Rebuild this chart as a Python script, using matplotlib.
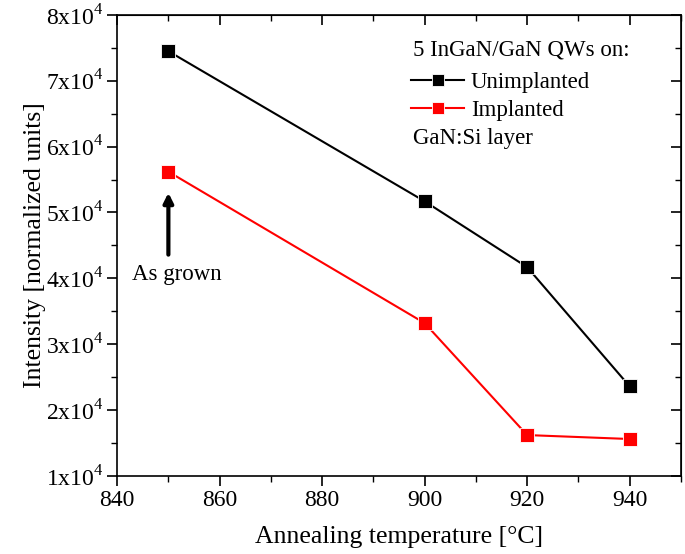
import matplotlib
matplotlib.use("Agg")
import matplotlib.pyplot as plt
from matplotlib.ticker import MultipleLocator, FuncFormatter

# data
temps = [850, 900, 920, 940]
unimplanted = [7.45e4, 5.17e4, 4.17e4, 2.36e4]
implanted = [5.62e4, 3.32e4, 1.62e4, 1.56e4]

plt.rcParams['font.family'] = ['Liberation Serif', 'DejaVu Serif']
plt.rcParams['mathtext.fontset'] = 'custom'
plt.rcParams['mathtext.rm'] = 'Liberation Serif'

fig = plt.figure(figsize=(6.85, 5.54), dpi=100)
ax = fig.add_axes([0.171, 0.141, 0.823, 0.832])

l1, = ax.plot(temps, unimplanted, color='black', lw=1.5, marker='s', ms=9.5,
              mec='white', mew=0.6)
l2, = ax.plot(temps, implanted, color='red', lw=1.5, marker='s', ms=9.5,
              mec='white', mew=0.6)

ax.set_xlim(840, 950)
ax.set_ylim(1e4, 8e4)
ax.xaxis.set_major_locator(MultipleLocator(20))
ax.xaxis.set_minor_locator(MultipleLocator(10))
ax.yaxis.set_major_locator(MultipleLocator(1e4))
ax.yaxis.set_minor_locator(MultipleLocator(5e3))
ax.yaxis.set_major_formatter(FuncFormatter(lambda v, p: f"{int(round(v / 1e4))}x10$^{{4}}$"))

ax.tick_params(which='major', direction='out', length=7, width=1.2, labelsize=17, pad=3)
ax.tick_params(which='minor', direction='out', length=4, width=1.0)
for s in ax.spines.values():
    s.set_linewidth(1.2)

# inward ticks on top and right
top = ax.secondary_xaxis('top')
top.xaxis.set_major_locator(MultipleLocator(20))
top.xaxis.set_minor_locator(MultipleLocator(10))
top.tick_params(which='major', direction='in', length=7, width=1.2, labeltop=False)
top.tick_params(which='minor', direction='in', length=4, width=1.0)
right = ax.secondary_yaxis('right')
right.yaxis.set_major_locator(MultipleLocator(1e4))
right.yaxis.set_minor_locator(MultipleLocator(5e3))
right.tick_params(which='major', direction='in', length=7, width=1.2, labelright=False)
right.tick_params(which='minor', direction='in', length=4, width=1.0)

ax.set_xlabel("Annealing temperature [°C]", fontsize=18.5, labelpad=11)
ax.set_ylabel("Intensity [normalized units]", fontsize=18.5, labelpad=0)

# "As grown" arrow
ax.annotate("", xy=(850, 5.3e4), xytext=(850, 4.36e4),
            arrowprops=dict(arrowstyle='-|>', color='black', lw=3,
                            mutation_scale=14, shrinkA=0, shrinkB=0))
ax.text(851.7, 4.06e4, "As grown", ha='center', va='center', fontsize=16.5)

# legend block
ax.text(0.525, 0.924, "5 InGaN/GaN QWs on:", transform=ax.transAxes,
        ha='left', va='center', fontsize=16.5)
ax.legend([l1, l2], ["Unimplanted", "Implanted"], loc='upper left',
          bbox_to_anchor=(0.522, 0.876), frameon=False, fontsize=16.5,
          borderpad=0, borderaxespad=0, handlelength=2.3, handletextpad=0.3,
          labelspacing=0.3, markerscale=0.85)
ax.text(0.525, 0.733, "GaN:Si layer", transform=ax.transAxes,
        ha='left', va='center', fontsize=16.5)

fig.savefig("out.png", dpi=100)
